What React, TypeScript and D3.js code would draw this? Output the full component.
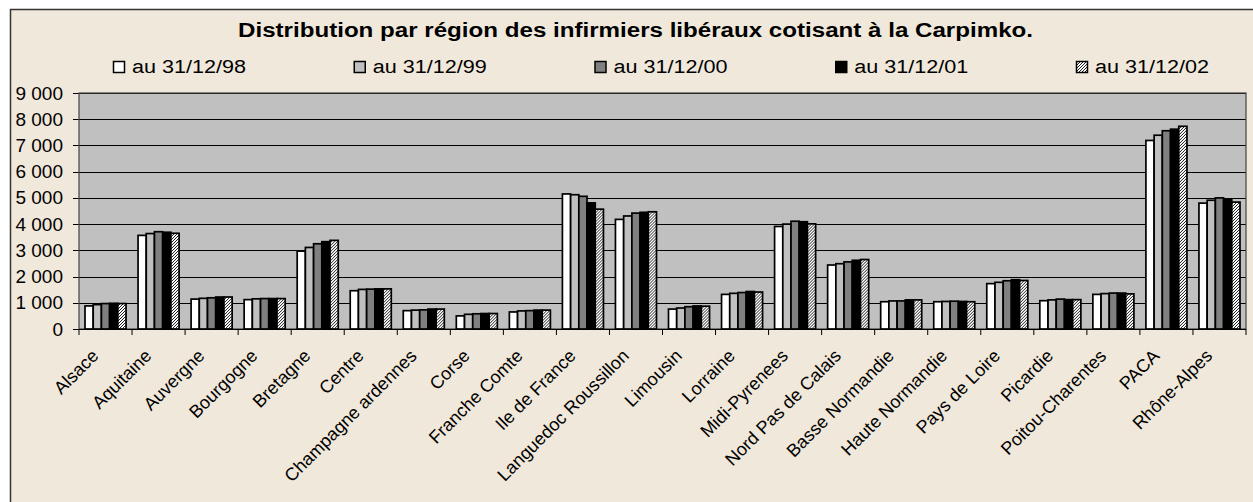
import React from 'react';
import * as d3 from 'd3';

const regions = [
  'Alsace', 'Aquitaine', 'Auvergne', 'Bourgogne', 'Bretagne', 'Centre',
  'Champagne ardennes', 'Corse', 'Franche Comte', 'Ile de France',
  'Languedoc Roussillon', 'Limousin', 'Lorraine', 'Midi-Pyrenees',
  'Nord Pas de Calais', 'Basse Normandie', 'Haute Normandie', 'Pays de Loire',
  'Picardie', 'Poitou-Charentes', 'PACA', 'Rhône-Alpes',
];

const seriesNames = ['au 31/12/98', 'au 31/12/99', 'au 31/12/00', 'au 31/12/01', 'au 31/12/02'];

const v98 = [880, 3570, 1140, 1120, 2970, 1460, 700, 500, 650, 5150, 4180, 760, 1320, 3910, 2440, 1040, 1040, 1730, 1080, 1320, 7190, 4800];
const v99 = [930, 3640, 1170, 1150, 3110, 1510, 720, 560, 690, 5120, 4310, 800, 1360, 4000, 2490, 1070, 1050, 1780, 1110, 1350, 7390, 4910];
const v00 = [970, 3710, 1190, 1160, 3250, 1520, 730, 580, 700, 5060, 4420, 850, 1390, 4110, 2560, 1070, 1060, 1840, 1140, 1370, 7560, 5000];
const v01 = [980, 3690, 1220, 1160, 3330, 1530, 760, 590, 720, 4810, 4450, 880, 1430, 4090, 2620, 1110, 1050, 1880, 1120, 1370, 7620, 4960];
const v02 = [970, 3650, 1220, 1160, 3380, 1530, 760, 590, 720, 4570, 4470, 870, 1410, 4010, 2650, 1110, 1040, 1850, 1120, 1340, 7730, 4840];
const seriesValues = [v98, v99, v00, v01, v02];

const yTicks = [0, 1000, 2000, 3000, 4000, 5000, 6000, 7000, 8000, 9000];

const titleText = 'Distribution par région des infirmiers libéraux cotisant à la Carpimko.';

const fills = ['#FFFFFF', '#C0C0C0', '#808080', '#000000', 'url(#hatch)'];

const W = 1253;
const H = 502;
const plot = { left: 79, right: 1246, top: 93, bottom: 329 };
const FONT = '"Liberation Sans", Arial, sans-serif';

const fmt = d3.formatLocale({ decimal: ',', thousands: ' ', grouping: [3], currency: ['', ' €'] }).format(',d');

export default function App() {
  const x = d3.scaleBand<string>().domain(regions).range([plot.left, plot.right]).padding(0);
  const step = x.bandwidth();
  const xs = d3.scaleBand<string>().domain(seriesNames).range([6, step - 6]).padding(0);
  const y = d3.scaleLinear().domain([0, 9000]).range([plot.bottom, plot.top]);

  const legendX = d3.scaleLinear().domain([0, 4]).range([113, 1076]);

  return (
    <div style={{ position: 'absolute', left: 0, top: 0 }}>
      <svg width={W} height={H} style={{ display: 'block' }} fontFamily={FONT}>
        <defs>
          <pattern id="hatch" width="3" height="3" patternUnits="userSpaceOnUse">
            <rect width="3" height="3" fill="#FFFFFF" />
            <path d="M-1,1 l2,-2 M0,3 l3,-3 M2,4 l2,-2" stroke="#000" strokeWidth="0.9" />
          </pattern>
        </defs>
        <rect x={0} y={0} width={W} height={H} fill="#FFFFFF" />
        <rect x={10.5} y={9.5} width={1250} height={500} fill="#F0E8DA" stroke="#333" strokeWidth={1.5} />

        <text x={238} y={37} fontWeight="bold" fontSize={20} fill="#000" textLength={795} lengthAdjust="spacingAndGlyphs">
          {titleText}
        </text>

        {seriesNames.map((s, i) => (
          <g key={s} transform={`translate(${legendX(i)},0)`}>
            <rect x={0.5} y={61.5} width={11} height={11} fill={fills[i]} stroke="#000" strokeWidth={1.5} />
            <text x={19} y={72.5} fontSize={18} fill="#000" textLength={114} lengthAdjust="spacingAndGlyphs">{s}</text>
          </g>
        ))}

        <rect x={plot.left} y={plot.top} width={plot.right - plot.left} height={plot.bottom - plot.top} fill="#C0C0C0" />
        {yTicks.map((t) => (
          <g key={t}>
            <line x1={plot.left - 6} x2={plot.right} y1={Math.round(y(t)) + 0.5} y2={Math.round(y(t)) + 0.5} stroke="#000" strokeWidth={1} />
            <text x={plot.left - 16} y={y(t) + 6.5} textAnchor="end" fontSize={19} fill="#000">{fmt(t)}</text>
          </g>
        ))}
        <rect x={plot.left} y={plot.top} width={plot.right - plot.left} height={plot.bottom - plot.top} fill="none" stroke="#444" strokeWidth={1.2} />

        {regions.map((r, ci) => (
          <g key={r} transform={`translate(${x(r)},0)`}>
            {seriesNames.map((s, si) => {
              const v = seriesValues[si][ci];
              return (
                <rect key={s} x={xs(s)!} y={y(v)} width={xs.bandwidth()} height={y(0) - y(v)}
                  fill={fills[si]} stroke="#000" strokeWidth={1.7} />
              );
            })}
          </g>
        ))}

        <line x1={plot.left} x2={plot.right} y1={plot.bottom + 0.5} y2={plot.bottom + 0.5} stroke="#000" strokeWidth={1.2} />
        {d3.range(regions.length + 1).map((i) => {
          const xx = plot.left + i * step;
          return <line key={i} x1={xx} x2={xx} y1={plot.bottom} y2={plot.bottom + 6} stroke="#000" strokeWidth={1} />;
        })}

        {regions.map((r) => {
          const cx = x(r)! + step / 2 - 6;
          const cy = plot.bottom + 28;
          return (
            <text key={r} x={cx} y={cy} textAnchor="end" fontSize={18} fill="#000" transform={`rotate(-45, ${cx}, ${cy})`}>
              {r}
            </text>
          );
        })}
      </svg>
    </div>
  );
}
